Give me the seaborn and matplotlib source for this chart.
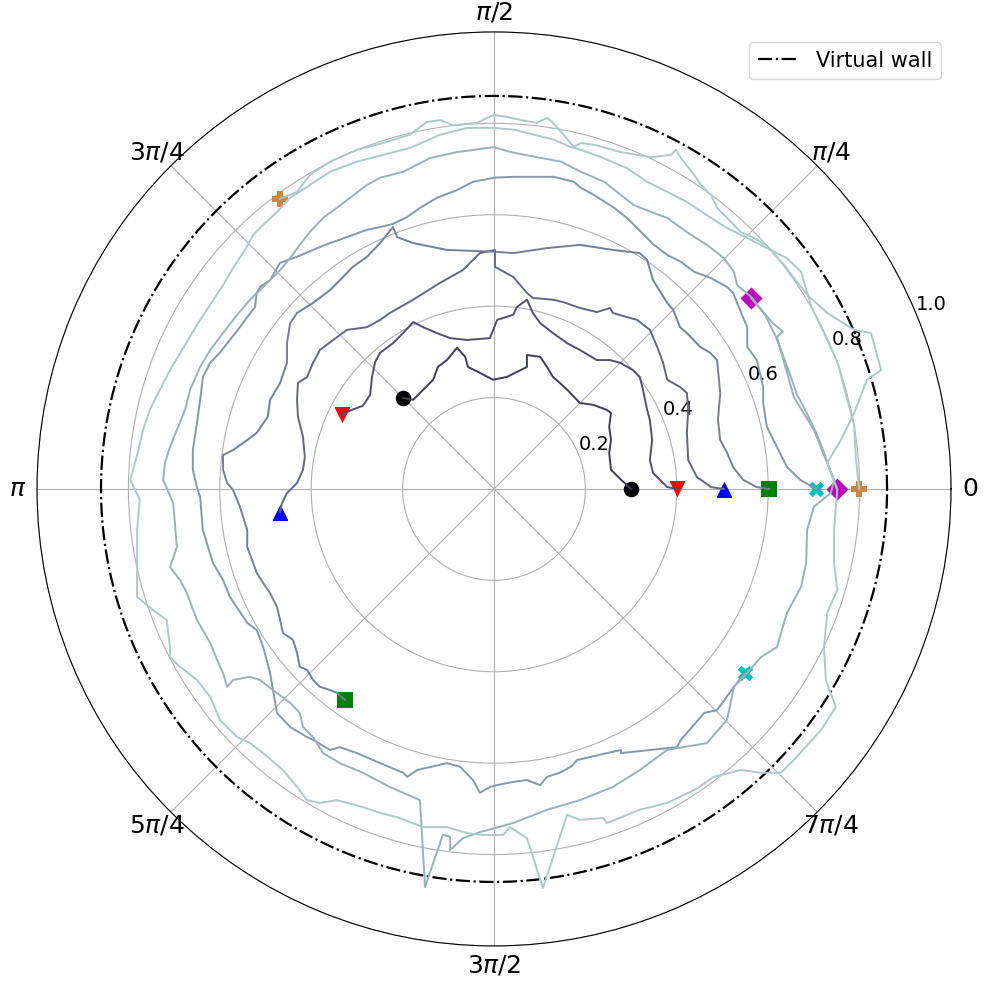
import numpy as np
import matplotlib.pyplot as plt
import seaborn as sns

# robot paths, x / y in arena units (outer ring = 1.0)
black_x = [0.300, 0.278, 0.256, 0.252, 0.256, 0.252, 0.256, 0.247, 0.217, 0.188, 0.160, 0.144, 0.129, 0.116,
           0.101, 0.072, 0.072, 0.050, 0.028, -0.002, -0.031, -0.057, -0.063, -0.081, -0.103, -0.123, -0.133,
           -0.155, -0.177, -0.199]
black_y = [0.000, 0.020, 0.042, 0.079, 0.107, 0.136, 0.166, 0.173, 0.184, 0.188, 0.217, 0.232, 0.245, 0.267,
           0.289, 0.293, 0.267, 0.256, 0.245, 0.239, 0.254, 0.267, 0.289, 0.309, 0.282, 0.267, 0.239,
           0.217, 0.195, 0.199]

red_x = [0.400, 0.379, 0.348, 0.341, 0.346, 0.341, 0.335, 0.326, 0.319, 0.304, 0.276, 0.254, 0.225, 0.188,
         0.160, 0.129, 0.101, 0.085, 0.072, 0.050, 0.042, 0.007, -0.009, -0.059, -0.096, -0.125, -0.155,
         -0.177, -0.199, -0.221, -0.249, -0.260, -0.267, -0.271, -0.287, -0.311, -0.333]
red_y = [0.000, 0.004, 0.035, 0.063, 0.107, 0.151, 0.173, 0.217, 0.245, 0.260, 0.276, 0.282, 0.282, 0.304,
         0.319, 0.341, 0.363, 0.385, 0.414, 0.398, 0.381, 0.370, 0.330, 0.326, 0.330, 0.341, 0.354,
         0.365, 0.341, 0.319, 0.298, 0.278, 0.245, 0.206, 0.182, 0.173, 0.162]

blue_x = [0.503, 0.475, 0.444, 0.425, 0.422, 0.425, 0.422, 0.407, 0.379, 0.370, 0.357, 0.341, 0.313, 0.291,
          0.260, 0.254, 0.225, 0.188, 0.151, 0.129, 0.085, 0.072, 0.042, 0.002, 0.002, -0.031, -0.068,
          -0.118, -0.177, -0.228, -0.249, -0.278, -0.322, -0.352, -0.381, -0.396, -0.409, -0.429, -0.431,
          -0.429, -0.418, -0.414, -0.418, -0.431, -0.453, -0.464, -0.468]
blue_y = [0.000, 0.004, 0.026, 0.063, 0.123, 0.173, 0.210, 0.223, 0.239, 0.276, 0.311, 0.348, 0.370, 0.376,
          0.385, 0.396, 0.387, 0.396, 0.409, 0.414, 0.418, 0.429, 0.464, 0.486, 0.523, 0.516, 0.479,
          0.451, 0.414, 0.385, 0.370, 0.354, 0.348, 0.326, 0.304, 0.276, 0.245, 0.232, 0.195,
          0.158, 0.114, 0.070, 0.042, 0.013, -0.009, -0.031, -0.050]

green_x = [0.602, 0.575, 0.545, 0.523, 0.510, 0.495, 0.490, 0.495, 0.488, 0.473, 0.451, 0.422, 0.407, 0.392,
           0.379, 0.348, 0.335, 0.319, 0.260, 0.188, 0.116, 0.042, 0.002, -0.103, -0.177, -0.212, -0.221,
           -0.249, -0.278, -0.309, -0.330, -0.359, -0.396, -0.431, -0.446, -0.453, -0.453, -0.468, -0.490,
           -0.495, -0.519, -0.540, -0.571, -0.593, -0.593, -0.584, -0.571, -0.556, -0.540, -0.540, -0.527,
           -0.519, -0.505, -0.490, -0.475, -0.468, -0.462, -0.440, -0.431, -0.425, -0.409, -0.396, -0.381,
           -0.359, -0.344, -0.326]
green_y = [0.000, 0.004, 0.020, 0.048, 0.079, 0.107, 0.151, 0.210, 0.282, 0.298, 0.311, 0.341, 0.354, 0.392,
           0.407, 0.457, 0.501, 0.516, 0.523, 0.534, 0.527, 0.516, 0.519, 0.523, 0.538, 0.551, 0.573,
           0.538, 0.508, 0.486, 0.464, 0.435, 0.407, 0.385, 0.363, 0.319, 0.276, 0.232, 0.195,
           0.158, 0.123, 0.107, 0.085, 0.074, 0.042, 0.013, -0.002, -0.039, -0.090, -0.127, -0.162,
           -0.184, -0.206, -0.228, -0.258, -0.287, -0.315, -0.330, -0.359, -0.389, -0.396, -0.418, -0.433,
           -0.440, -0.446, -0.462]

cyan_x = [0.705, 0.670, 0.641, 0.619, 0.597, 0.589, 0.589, 0.575, 0.554, 0.554, 0.538, 0.523, 0.510, 0.473,
          0.438, 0.409, 0.379, 0.350, 0.322, 0.291, 0.263, 0.219, 0.190, 0.175, 0.131, 0.044, 0.000,
          -0.046, -0.081, -0.125, -0.162, -0.190, -0.221, -0.249, -0.278, -0.322, -0.359, -0.396, -0.431,
          -0.468, -0.490, -0.512, -0.519, -0.523, -0.540, -0.556, -0.578, -0.600, -0.621, -0.637, -0.643,
          -0.650, -0.659, -0.659, -0.650, -0.643, -0.637, -0.615, -0.593, -0.578, -0.540, -0.519, -0.505,
          -0.490, -0.475, -0.446, -0.409, -0.396, -0.359, -0.337, -0.300, -0.249, -0.199, -0.190, -0.168,
          -0.103, -0.074, -0.046, -0.031, -0.009, 0.007, 0.042, 0.072, 0.101, 0.116, 0.144, 0.168, 0.182,
          0.278, 0.278, 0.400, 0.409, 0.460, 0.488, 0.525, 0.549]
cyan_y = [0.000, 0.020, 0.048, 0.092, 0.136, 0.188, 0.223, 0.282, 0.311, 0.354, 0.392, 0.429, 0.442, 0.462,
          0.475, 0.497, 0.512, 0.534, 0.562, 0.593, 0.615, 0.643, 0.659, 0.672, 0.683, 0.683, 0.681,
          0.672, 0.654, 0.637, 0.615, 0.595, 0.580, 0.573, 0.567, 0.551, 0.538, 0.523, 0.508,
          0.495, 0.457, 0.442, 0.429, 0.398, 0.376, 0.354, 0.326, 0.298, 0.276, 0.245, 0.195,
          0.144, 0.085, 0.042, 0.004, -0.018, -0.090, -0.162, -0.199, -0.236, -0.293, -0.309, -0.346,
          -0.403, -0.490, -0.521, -0.543, -0.549, -0.571, -0.565, -0.578, -0.600, -0.621, -0.630, -0.615,
          -0.600, -0.608, -0.637, -0.665, -0.652, -0.648, -0.641, -0.637, -0.648, -0.630, -0.621, -0.608, -0.593,
          -0.571, -0.578, -0.565, -0.549, -0.490, -0.484, -0.433, -0.403]

magenta_x = [0.751, 0.735, 0.720, 0.702, 0.681, 0.663, 0.648, 0.632, 0.615, 0.593, 0.565, 0.532, 0.525, 0.503,
             0.466, 0.422, 0.379, 0.344, 0.306, 0.278, 0.241, 0.190, 0.147, 0.094, 0.037, 0.000, -0.081,
             -0.140, -0.199, -0.249, -0.278, -0.315, -0.344, -0.374, -0.403, -0.425, -0.446, -0.468, -0.505,
             -0.534, -0.562, -0.593, -0.621, -0.643, -0.665, -0.676, -0.694, -0.709, -0.720, -0.724, -0.702,
             -0.694, -0.709, -0.687, -0.672, -0.650, -0.621, -0.606, -0.593, -0.584, -0.571, -0.534, -0.512,
             -0.484, -0.446, -0.425, -0.418, -0.396, -0.374, -0.337, -0.287, -0.228, -0.162, -0.151, -0.112,
             -0.096, -0.096, -0.068, -0.031, 0.002, 0.042, 0.116, 0.188, 0.260, 0.319, 0.379, 0.466, 0.510,
             0.525, 0.554, 0.584, 0.619, 0.641, 0.672, 0.683, 0.685, 0.700, 0.737, 0.744, 0.729, 0.700,
             0.656, 0.635, 0.619, 0.632, 0.610, 0.562]
magenta_y = [0.000, 0.042, 0.085, 0.129, 0.173, 0.206, 0.249, 0.293, 0.337, 0.381, 0.418, 0.446, 0.475, 0.505,
             0.534, 0.562, 0.593, 0.606, 0.621, 0.643, 0.672, 0.694, 0.716, 0.726, 0.737, 0.748, 0.737,
             0.724, 0.694, 0.681, 0.665, 0.637, 0.615, 0.593, 0.562, 0.534, 0.505, 0.479, 0.442,
             0.414, 0.381, 0.341, 0.304, 0.267, 0.217, 0.173, 0.129, 0.092, 0.057, 0.020, -0.031,
             -0.127, -0.171, -0.199, -0.228, -0.287, -0.337, -0.374, -0.403, -0.433, -0.418, -0.411, -0.418,
             -0.440, -0.468, -0.490, -0.521, -0.543, -0.578, -0.600, -0.621, -0.652, -0.681, -0.871, -0.757,
             -0.761, -0.790, -0.764, -0.751, -0.742, -0.731, -0.702, -0.681, -0.652, -0.615, -0.571, -0.556, -0.505,
             -0.433, -0.403, -0.368, -0.346, -0.271, -0.214, -0.162, -0.090, -0.039, -0.009, 0.020, 0.057, 0.129,
             0.201, 0.276, 0.333, 0.344, 0.363, 0.418]

orange_x = [0.799, 0.792, 0.788, 0.770, 0.753, 0.724, 0.694, 0.672, 0.641, 0.597, 0.554, 0.510, 0.475, 0.422,
            0.379, 0.335, 0.291, 0.234, 0.190, 0.168, 0.131, 0.088, 0.044, 0.000, -0.059, -0.118, -0.184,
            -0.243, -0.300, -0.359, -0.403, -0.446, -0.475, -0.505, -0.527, -0.545, -0.567, -0.593, -0.621,
            -0.650, -0.676, -0.709, -0.731, -0.753, -0.768, -0.781, -0.790, -0.796, -0.775, -0.781, -0.781,
            -0.746, -0.716, -0.709, -0.709, -0.687, -0.650, -0.621, -0.600, -0.562, -0.534, -0.505, -0.462,
            -0.431, -0.409, -0.381, -0.344, -0.287, -0.249, -0.212, -0.155, -0.103, -0.059, -0.024, 0.020,
            0.035, 0.072, 0.107, 0.160, 0.188, 0.239, 0.247, 0.319, 0.379, 0.438, 0.481, 0.540, 0.584, 0.628,
            0.656, 0.716, 0.748, 0.726, 0.722, 0.729, 0.751, 0.744, 0.744, 0.751, 0.729, 0.759, 0.788, 0.816,
            0.847, 0.825, 0.788, 0.729, 0.685, 0.656, 0.635, 0.597, 0.569, 0.540, 0.510, 0.488, 0.475, 0.453,
            0.438, 0.409, 0.398, 0.387, 0.344, 0.313, 0.278, 0.219, 0.190, 0.175, 0.147, 0.127, 0.116, 0.094,
            0.059, 0.028, 0.000, -0.015, -0.037, -0.090, -0.118, -0.147, -0.184, -0.243, -0.300, -0.359,
            -0.403, -0.431, -0.468]
orange_y = [0.000, 0.063, 0.140, 0.206, 0.274, 0.337, 0.400, 0.475, 0.505, 0.527, 0.549, 0.571, 0.593, 0.628,
            0.650, 0.672, 0.702, 0.726, 0.742, 0.748, 0.764, 0.775, 0.786, 0.790, 0.790, 0.775, 0.746,
            0.731, 0.716, 0.694, 0.665, 0.637, 0.606, 0.578, 0.556, 0.523, 0.490, 0.446, 0.403,
            0.359, 0.315, 0.260, 0.217, 0.173, 0.129, 0.074, 0.042, 0.020, -0.024, -0.090, -0.236,
            -0.265, -0.287, -0.346, -0.368, -0.389, -0.418, -0.455, -0.505, -0.543, -0.556, -0.578, -0.615,
            -0.652, -0.681, -0.687, -0.681, -0.696, -0.709, -0.718, -0.740, -0.740, -0.753, -0.757, -0.757,
            -0.740, -0.764, -0.873, -0.713, -0.724, -0.720, -0.731, -0.702, -0.687, -0.659, -0.630, -0.615, -0.621,
            -0.621, -0.593, -0.527, -0.477, -0.418, -0.346, -0.271, -0.221, -0.162, -0.090, -0.002, 0.057, 0.107,
            0.166, 0.239, 0.260, 0.341, 0.348, 0.385, 0.425, 0.462, 0.490, 0.532, 0.549, 0.562, 0.593, 0.615,
            0.643, 0.665, 0.687, 0.724, 0.742, 0.731, 0.726, 0.731, 0.737, 0.753, 0.757, 0.748, 0.781, 0.803,
            0.812, 0.801, 0.807, 0.814, 0.818, 0.812, 0.801, 0.796, 0.807, 0.803, 0.775, 0.757, 0.742, 0.716,
            0.687, 0.650, 0.635]

paths = [(black_x, black_y), (red_x, red_y), (blue_x, blue_y), (green_x, green_y),
         (cyan_x, cyan_y), (magenta_x, magenta_y), (orange_x, orange_y)]
marker_shapes = ['o', 'v', '^', 's', 'X', 'D', 'P']
marker_colors = ['k', 'r', 'b', 'g', 'c', 'm', 'peru']
WALL_R = 0.86
tick_labels = ['0', r'$\pi/4$', r'$\pi/2$', r'$3\pi/4$', r'$\pi$', r'$5\pi/4$', r'$3\pi/2$', r'$7\pi/4$']

# one shade of "bone" per robot, dark for the inner ones
line_colors = sns.color_palette([plt.get_cmap('bone')(v) for v in np.linspace(0.28, 0.76, len(paths))])

fig = plt.figure(figsize=(9.84, 9.82), dpi=100)
ax = fig.add_axes([0.0376, 0.0367, 0.9289, 0.9308], projection='polar')

for (px, py), lc, mk, mc in zip(paths, line_colors, marker_shapes, marker_colors):
    px = np.asarray(px)
    py = np.asarray(py)
    theta = np.arctan2(py, px)
    r = np.hypot(px, py)
    # start and end positions, path drawn over them
    sns.scatterplot(x=theta[[0, -1]], y=r[[0, -1]], marker=mk, color=mc, s=125,
                    linewidth=0, ax=ax, zorder=3, legend=False)
    sns.lineplot(x=theta, y=r, sort=False, estimator=None, color=lc, lw=1.4, ax=ax, zorder=4)

# the virtual wall
wall_t = np.linspace(0, 2 * np.pi, 400)
ax.plot(wall_t, np.full_like(wall_t, WALL_R), color='k', ls='-.', lw=1.6, label='Virtual wall')

ax.set_ylim(0, 1.0)
ax.set_xticks(np.arange(8) * np.pi / 4, tick_labels, fontsize=18)
ax.set_yticks([0.2, 0.4, 0.6, 0.8, 1.0])
ax.tick_params(axis='y', labelsize=14)
ax.set_xlabel('')
ax.set_ylabel('')
ax.legend(loc='upper right', fontsize=15)

fig.savefig('out.png', dpi=100)
